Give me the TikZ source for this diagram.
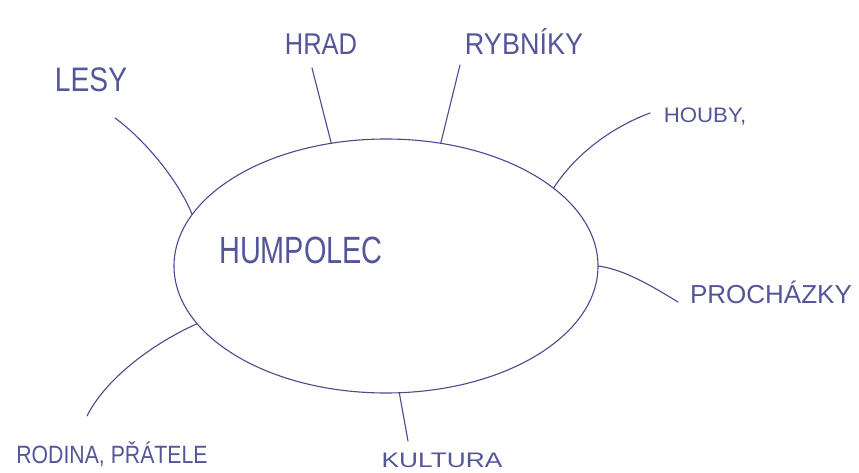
\documentclass[tikz,border=0pt]{standalone}
\usepackage{fontspec}
\setmainfont{Liberation Sans}
\usetikzlibrary{shapes.geometric}
\definecolor{ink}{HTML}{4A4A8E}
\definecolor{inktext}{HTML}{55559A}
\begin{document}
\begin{tikzpicture}[x=1pt,y=-1pt,
  inkline/.style={draw=ink, line width=1.1pt, line cap=round},
  lbl/.style={text=inktext, inner sep=0pt, anchor=base}]
\useasboundingbox[fill=white] (0,0) rectangle (859,473);
% central ellipse
\node[ellipse, draw=ink, line width=1.1pt, minimum width=424pt, minimum height=254pt, inner sep=0pt] (hub) at (386,266) {};
\node[lbl, font=\fontsize{38}{38}\selectfont] (humpolec) at (301,263) {\scalebox{0.76}[1]{HUMPOLEC}};
% labels
\node[lbl, font=\fontsize{34}{34}\selectfont] (lesy) at (91,92) {\scalebox{0.83}[1]{LESY}};
\node[lbl, font=\fontsize{30}{30}\selectfont] (hrad) at (321,55) {\scalebox{0.85}[1]{HRAD}};
\node[lbl, font=\fontsize{30}{30}\selectfont] (rybniky) at (524,55) {\scalebox{0.9}[1]{RYBNÍKY}};
\node[lbl, font=\fontsize{21}{21}\selectfont] (houby) at (705,123) {\scalebox{1.06}[1]{HOUBY,}};
\node[lbl, font=\fontsize{26}{26}\selectfont] (prochazky) at (771,303) {PROCHÁZKY};
\node[lbl, font=\fontsize{21}{21}\selectfont] (kultura) at (442,467) {\scalebox{1.25}[1]{KULTURA}};
\node[lbl, font=\fontsize{25}{25}\selectfont] (rodina) at (112,463) {\scalebox{0.85}[1]{RODINA, PŘÁTELE}};
% connector free ends
\coordinate (lesyend) at (115,118);
\coordinate (hradend) at (312,68);
\coordinate (rybend) at (460,65);
\coordinate (houbyend) at (650,113);
\coordinate (prochend) at (678,302);
\coordinate (kultend) at (408,441);
\coordinate (rodend) at (87,416);
% connectors
\draw[inkline] (hub.165) .. controls (178,180) and (145,140) .. (lesyend);
\draw[inkline] (hub.114) -- (hradend);
\draw[inkline] (hub.66) -- (rybend);
\draw[inkline] (hub.25) .. controls (575,155) and (610,128) .. (houbyend);
\draw[inkline] (hub.0) .. controls (625,270) and (650,285) .. (prochend);
\draw[inkline] (hub.-84) -- (kultend);
\draw[inkline] (hub.197.5) .. controls (150,345) and (105,380) .. (rodend);
\end{tikzpicture}
\end{document}
